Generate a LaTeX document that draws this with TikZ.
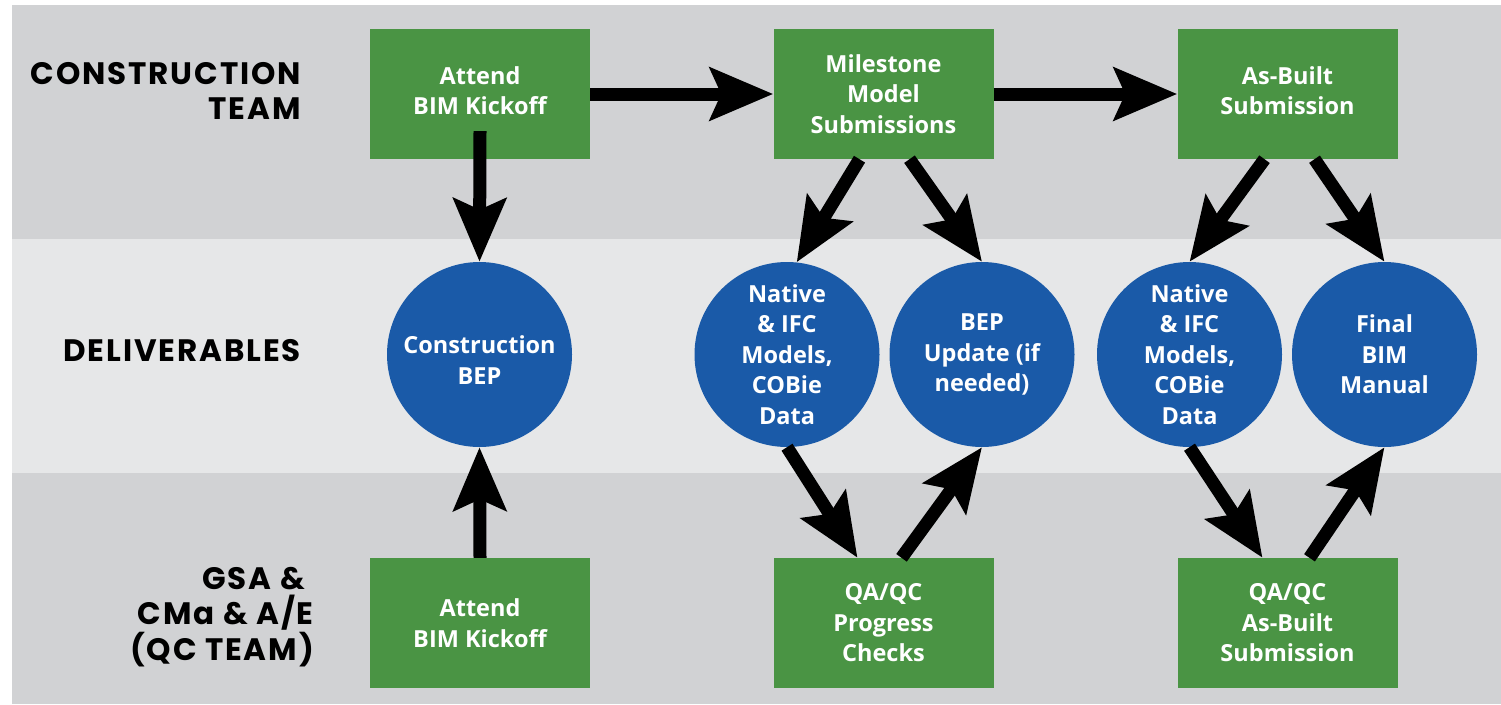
\documentclass[tikz,border=0pt]{standalone}
\usepackage{fontspec}
\setmainfont{Open Sans}
\newfontfamily\lanefont{Poppins}[LetterSpace=6]
\usetikzlibrary{arrows.meta,calc}
\definecolor{lanedark}{RGB}{209,210,212}
\definecolor{lanelight}{RGB}{230,231,232}
\definecolor{boxgreen}{RGB}{74,148,68}
\definecolor{circblue}{RGB}{26,90,168}
\tikzset{
  gbox/.style={rectangle, fill=boxgreen, minimum width=220pt, minimum height=130pt, inner sep=0pt,
    text=white, align=center, font=\fontsize{23.5}{30.5}\selectfont\bfseries},
  bcirc/.style={circle, fill=circblue, minimum size=185pt, inner sep=0pt,
    text=white, align=center, font=\fontsize{23.5}{30.5}\selectfont\bfseries},
  lanelabel/.style={anchor=east, align=right, inner sep=0pt, text=black,
    font=\lanefont\fontsize{31}{35.5}\selectfont\bfseries},
  arr/.style={line width=13pt, draw=black,
    -{Stealth[length=63pt, width=52pt, inset=11pt]}},
}
\newcommand{\updepth}{\rule[-7pt]{0pt}{7pt}}
\newcommand{\downheight}{\rule{0pt}{29pt}}
\begin{document}
\begin{tikzpicture}[x=1pt, y=-1pt]
\useasboundingbox (0,0) rectangle (1501,704);
% lanes
\fill[lanedark]  (12,5)   rectangle (1501,239);
\fill[lanelight] (12,239) rectangle (1501,473);
\fill[lanedark]  (12,473) rectangle (1501,704);
% lane labels
\node[lanelabel] (l1) at (301,91) {CONSTRUCTION\\TEAM};
\node[lanelabel] (l2) at (301,351) {DELIVERABLES};
\node[lanelabel] (l3) at (314,617) {GSA \&\hspace*{9pt}\\CMa \& A/E\\(QC TEAM)};
% boxes
\node[gbox] (att1) at (480,94) {Attend\\BIM Kickoff\updepth};
\node[gbox] (mil)  at (883.5,94) {Milestone\\Model\\Submissions};
\node[gbox] (asb)  at (1287.5,94) {As-Built\\Submission\updepth};
\node[gbox] (att2) at (480,623) {Attend\\BIM Kickoff};
\node[gbox] (qa1)  at (883.5,623) {QA/QC\\Progress\\Checks};
\node[gbox] (qa2)  at (1287.5,623) {QA/QC\\As-Built\\Submission};
% circles
\node[bcirc] (bep)  at (479.5,354.5) {\downheight Construction\\BEP};
\node[bcirc] (nat1) at (787,354.5) {Native\\\& IFC\\Models,\\COBie\\Data};
\node[bcirc] (bepu) at (982,354.5) {BEP\\Update (if\\needed)};
\node[bcirc] (nat2) at (1189.5,354.5) {Native\\\& IFC\\Models,\\COBie\\Data};
\node[bcirc] (fin)  at (1384.5,354.5) {Final\\BIM\\Manual};
% arrows
\draw[arr] ($(att1.south)+(0,-28)$) -- (bep.north);
\draw[arr] (att1.east) -- (mil.west);
\draw[arr] (mil.east) -- (asb.west);
\draw[arr] ($(mil.south)+(-24,0)$) -- (nat1.84);
\draw[arr] ($(mil.south)+(26,0)$) -- (bepu.north);
\draw[arr] ($(asb.south)+(-23,0)$) -- (nat2.north);
\draw[arr] ($(asb.south)+(27,0)$) -- (fin.north);
\draw[arr] (nat1.south) -- ($(qa1.north)+(-26,0)$);
\draw[arr] ($(qa1.north)+(18,0)$) -- (bepu.south);
\draw[arr] (nat2.south) -- ($(qa2.north)+(-25,0)$);
\draw[arr] ($(qa2.north)+(22,0)$) -- (fin.south);
\draw[arr] (att2.north) -- (bep.south);
\end{tikzpicture}
\end{document}
